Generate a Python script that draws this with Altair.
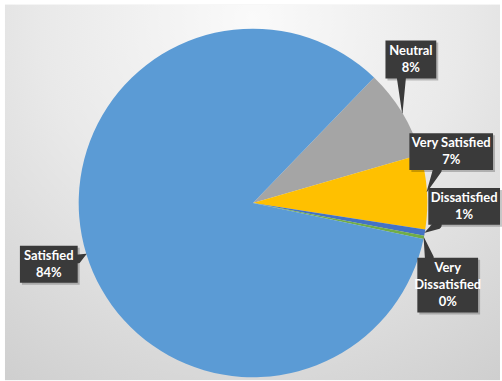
import math
import altair as alt
import pandas as pd

# ---- data ----
categories = ["Neutral", "Very Satisfied", "Dissatisfied", "Very Dissatisfied", "Satisfied"]
values = [8.3, 6.9, 0.6, 0.3, 83.9]
label_names = ["Neutral", "Very Satisfied", "Dissatisfied", "Very|Dissatisfied", "Satisfied"]
colors = ["#A5A5A5", "#FFC000", "#4472C4", "#70AD47", "#5B9BD5"]

# ---- layout (pixels) ----
CX, CY, R = 254, 203, 175
START = math.radians(44)
LH = 17
box_x0 = [387, 411, 430, 419, 20]
box_x1 = [438, 495, 502, 480, 78]
box_y0 = [40, 133, 188, 258, 246]
box_y1 = [78, 170, 225, 313, 283]
ptr_bx = [403, 439, 439, 431, 78]
ptr_by = [78, 170, 225, 258, 259]

order = list(range(len(categories)))
pie_df = pd.DataFrame({"cat": categories, "value": values, "order": order})
lab_df = pd.DataFrame({
    "cat": categories, "value": values, "order": order, "name": label_names,
    "x0": box_x0, "x1": box_x1, "y0": box_y0, "y1": box_y1,
    "bx": ptr_bx, "by": ptr_by,
})

color_scale = alt.Scale(domain=categories, range=colors)

bg = alt.Chart(pd.DataFrame({"a": [0]})).mark_rect(
    color=alt.RadialGradient(
        gradient="radial",
        stops=[alt.GradientStop(offset=0, color="#fafafa"),
               alt.GradientStop(offset=0.45, color="#e9e9e9"),
               alt.GradientStop(offset=1, color="#cbcbcb")],
        x1=0.5, y1=0.15, r1=0, x2=0.5, y2=0.15, r2=0.95,
    )
).encode(x=alt.value(5), x2=alt.value(502), y=alt.value(4), y2=alt.value(381))

pie = alt.Chart(pie_df).mark_arc(outerRadius=R).encode(
    theta=alt.Theta("value:Q", stack=True,
                    scale=alt.Scale(range=[START, START + 2 * math.pi])),
    color=alt.Color("cat:N", scale=color_scale, legend=None),
    order=alt.Order("order:Q"),
    x=alt.value(CX), y=alt.value(CY),
)

base = alt.Chart(lab_df).transform_joinaggregate(
    total="sum(value)"
).transform_window(
    cum="sum(value)", sort=[alt.SortField("order")], frame=[None, 0]
).transform_calculate(
    mid=f"{START} + 2*PI*(datum.cum - datum.value/2)/datum.total",
    label="datum.name + '|' + format(datum.value/datum.total, '.0%')",
).transform_calculate(
    tx=f"{CX} + {R}*sin(datum.mid)",
    ty=f"{CY} - {R}*cos(datum.mid)",
    cx="(datum.x0 + datum.x1)/2",
    cy=f"(datum.y0 + datum.y1)/2 - (length(split(datum.label, '|')) - 1) * {LH} / 2",
    sx0="datum.x0 + 2", sx1="datum.x1 + 2", sy0="datum.y0 + 2", sy1="datum.y1 + 2",
)

shadow = base.mark_rect(color="#000000", opacity=0.22).encode(
    x=alt.X("sx0:Q", scale=None), x2="sx1:Q",
    y=alt.Y("sy0:Q", scale=None), y2="sy1:Q",
)

pointer = base.transform_fold(["bx", "tx"], as_=["key", "px"]).transform_calculate(
    py="datum.key == 'bx' ? datum.by : datum.ty",
    pw="datum.key == 'bx' ? 9 : 0.5",
    seq="datum.key == 'bx' ? 0 : 1",
).mark_trail(color="#3a3a3a").encode(
    x=alt.X("px:Q", scale=None),
    y=alt.Y("py:Q", scale=None),
    size=alt.Size("pw:Q", scale=None, legend=None),
    detail="cat:N",
    order="seq:Q",
)

boxes = base.mark_rect(color="#3a3a3a").encode(
    x=alt.X("x0:Q", scale=None), x2="x1:Q",
    y=alt.Y("y0:Q", scale=None), y2="y1:Q",
)

texts = base.mark_text(
    lineBreak="|", font="Lato", fontWeight="bold", fontSize=13,
    color="white", align="center", baseline="middle", lineHeight=LH,
).encode(
    x=alt.X("cx:Q", scale=None),
    y=alt.Y("cy:Q", scale=None),
    text="label:N",
)

chart = alt.layer(bg, pie, shadow, pointer, boxes, texts).properties(
    width=502, height=381, padding=0, background="white"
).configure_view(stroke=None)

chart.save("out.html", embed_options={"renderer": "svg", "actions": False})
